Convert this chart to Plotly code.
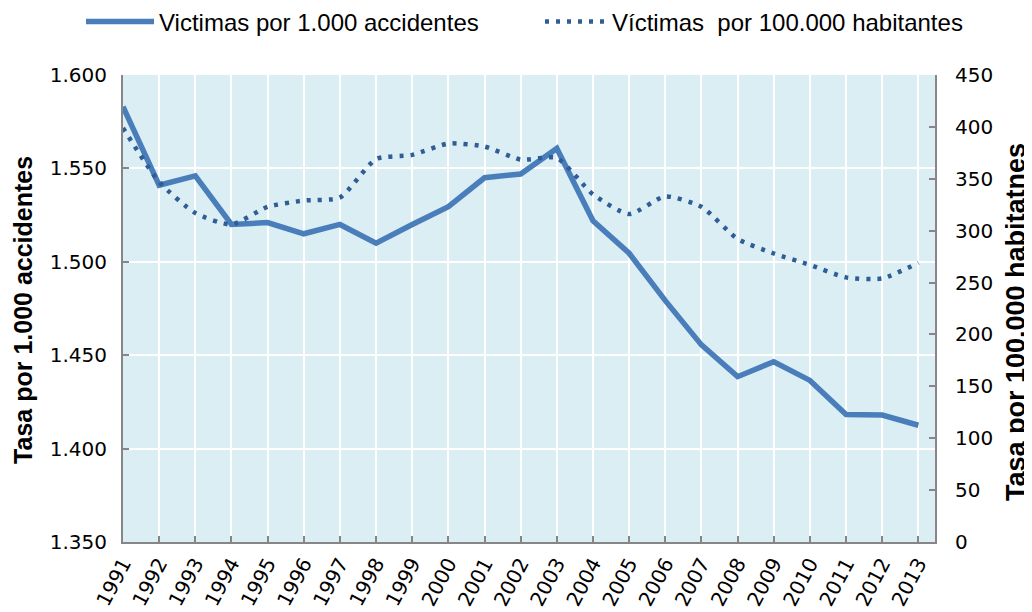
import plotly.graph_objects as go

years = list(range(1991, 2014))
year_labels = [str(y) for y in years]

victimas_accidentes = [1.583, 1.541, 1.546, 1.520, 1.521, 1.515, 1.520, 1.510, 1.520, 1.5295,
                       1.545, 1.547, 1.5607, 1.522, 1.5046, 1.4792, 1.4555, 1.4385, 1.4465, 1.4365,
                       1.4183, 1.4180, 1.4125]
victimas_habitantes = [399, 347, 317, 306, 323, 329, 332, 369, 373, 384,
                       381, 368.5, 370, 335, 316, 333, 323, 292, 278, 267,
                       255, 254, 269]

left_ticks = [1.35, 1.40, 1.45, 1.50, 1.55, 1.60]
left_ticktext = ["1.350", "1.400", "1.450", "1.500", "1.550", "1.600"]
right_ticks = list(range(0, 451, 50))

TICKFONT = "DejaVu Sans"
TEXTFONT = "Liberation Sans"
AXIS = "#868686"

# page body has an 8px margin: the figure sits at (8, 8) in the window
W, H = 1024, 604

fig = go.Figure()
fig.add_trace(go.Scatter(
    x=years, y=victimas_accidentes, name="Victimas por 1.000 accidentes",
    mode="lines", line=dict(color="#4A7EBB", width=5.5), yaxis="y", legend="legend"))
fig.add_trace(go.Scatter(
    x=years, y=victimas_habitantes, name="Víctimas\u00a0 por 100.000 habitantes",
    mode="lines", line=dict(color="#2F5D96", width=4.5, dash="4px,7px", shape="spline", smoothing=0.6),
    yaxis="y2", legend="legend2"))

axis_common = dict(showline=True, linecolor=AXIS, linewidth=2, ticks="inside", ticklen=6,
                   tickcolor=AXIS, tickwidth=1.5, zeroline=False, automargin=False,
                   tickfont=dict(family=TICKFONT, size=20, color="#000000"))

legend_common = dict(orientation="h", xref="container", xanchor="left",
                     yref="container", y=1 - 14 / H, yanchor="middle",
                     font=dict(family=TEXTFONT, size=24), bgcolor="rgba(0,0,0,0)")

fig.update_layout(
    width=W, height=H,
    margin=dict(l=115, r=97, t=67, b=70, autoexpand=False),
    paper_bgcolor="white", plot_bgcolor="#DBEEF4",
    font=dict(family=TEXTFONT, size=20, color="#000000"),
    showlegend=True,
    legend=dict(x=73 / W, itemwidth=68, **legend_common),
    legend2=dict(x=532 / W, itemwidth=62, **legend_common),
    xaxis=dict(range=[1991, 2013.46], tickvals=years, ticktext=year_labels, tickangle=-62,
               showgrid=True, gridcolor="white", gridwidth=2, **axis_common),
    yaxis=dict(range=[1.35, 1.60], tickvals=left_ticks, ticktext=left_ticktext,
               showgrid=True, gridcolor="white", gridwidth=2, ticklabelstandoff=10, **axis_common),
    yaxis2=dict(range=[0, 450], tickvals=right_ticks, overlaying="y", side="right",
                showgrid=False, ticklabelstandoff=14, **axis_common),
    annotations=[
        dict(text="<b>Tasa por 1.000 accidentes</b>", textangle=-90, xref="paper", yref="paper",
             x=(23 - 123) / 812, y=0.497, xanchor="center", yanchor="middle", showarrow=False,
             font=dict(family=TEXTFONT, size=25)),
        dict(text="<b>Tasa por 100.000 habitatnes</b>", textangle=-90, xref="paper", yref="paper",
             x=(1016 - 123) / 812, y=0.471, xanchor="center", yanchor="middle", showarrow=False,
             font=dict(family=TEXTFONT, size=27)),
    ],
)

fig.write_html("out.html")
